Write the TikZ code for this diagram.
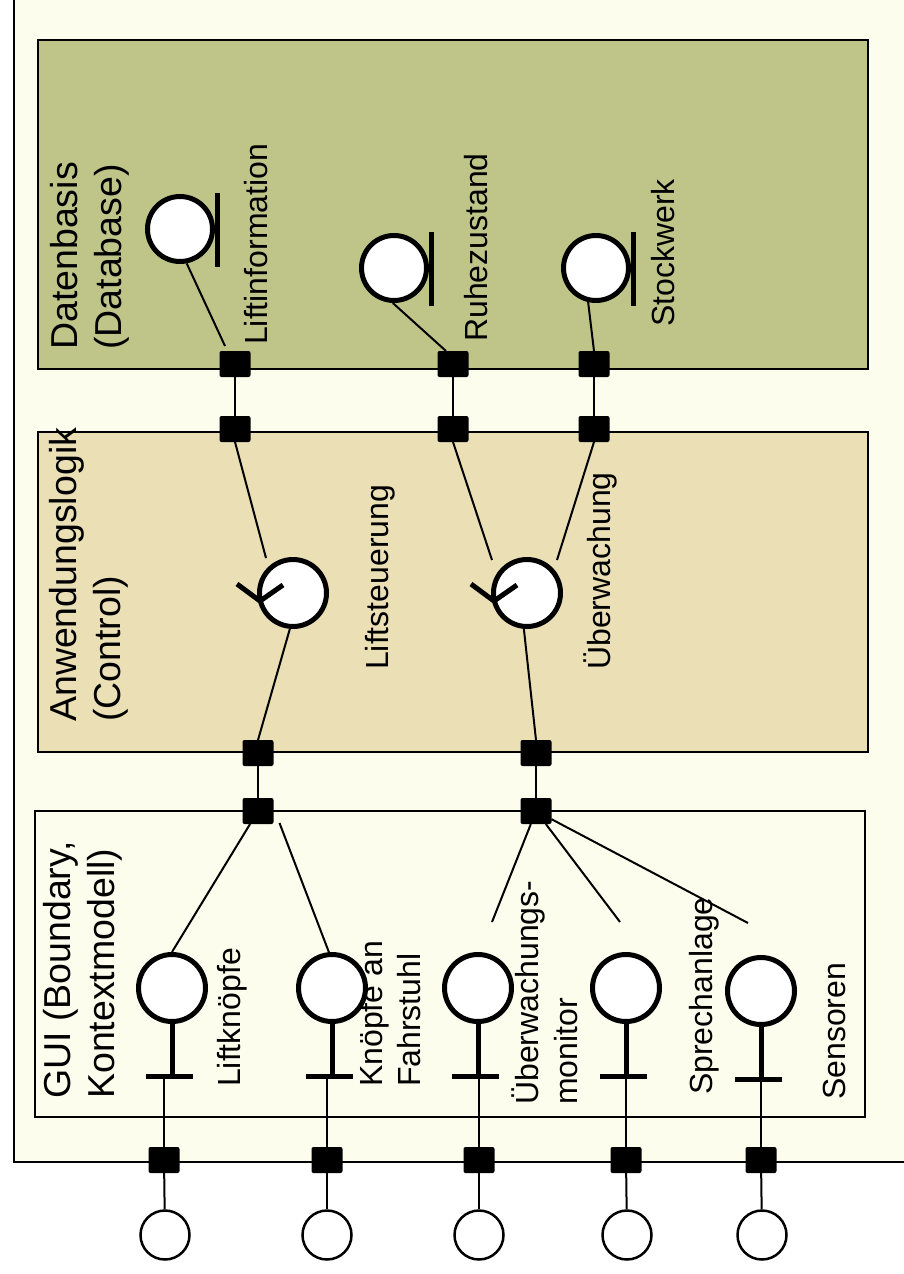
\documentclass[tikz,border=0pt]{standalone}
\usepackage{fontspec}
\setmainfont{Liberation Sans}
\usetikzlibrary{calc}
\definecolor{cream}{RGB}{253,253,237}
\definecolor{dbgreen}{RGB}{191,197,137}
\definecolor{ctrltan}{RGB}{234,223,181}
\begin{document}
\begin{tikzpicture}[x=1pt,y=-1pt,
  bandbox/.style={draw=black,line width=2.5pt},
  portbox/.style={rectangle,fill=black,rounded corners=2pt,minimum width=31pt,minimum height=26pt,inner sep=0pt,outer sep=0pt},
  conn/.style={line width=2pt},
  thickline/.style={line width=5pt},
  entcirc/.style={circle,draw=black,fill=white,line width=5pt,minimum size=65pt,inner sep=0pt},
  ctrlcirc/.style={circle,draw=black,fill=white,line width=5pt,minimum size=67pt,inner sep=0pt},
  actcirc/.style={circle,draw=black,fill=white,line width=5pt,minimum size=67pt,inner sep=0pt},
  extcirc/.style={circle,draw=black,fill=white,line width=2.5pt,minimum size=49pt,inner sep=0pt},
  lbl/.style={rotate=90,inner sep=0pt,font=\fontsize{32}{38.5}\selectfont},
  ttl/.style={rotate=90,inner sep=0pt,font=\fontsize{37.5}{44}\selectfont,align=left}]
\useasboundingbox (0,0) rectangle (904,1274);
\clip (0,0) rectangle (904,1274);
\fill[white] (0,0) rectangle (904,1274);
% outer frame
\fill[cream] (14,-10) rectangle (920,1162);
\draw[line width=2.5pt] (14,-10) -- (14,1162) -- (920,1162);
% bands
\draw[bandbox,fill=dbgreen] (38,40) rectangle (868,369);
\draw[bandbox,fill=ctrltan] (38,432) rectangle (868,752);
\draw[bandbox,fill=cream] (35,811) rectangle (865,1117);
% titles
\node[ttl,anchor=north west] (tDB) at (50,350) {Datenbasis\\(Database)};
\node[ttl,anchor=north west] (tCtrl) at (49,722) {Anwendungslogik\\(Control)};
\node[ttl,anchor=north west] (tGUI) at (43,1099) {GUI (Boundary,\\Kontextmodell)};
% ports
\node[portbox] (pDB1) at (235,364) {};
\node[portbox] (pDB2) at (453,364) {};
\node[portbox] (pDB3) at (594,364) {};
\node[portbox] (pC1) at (235,429) {};
\node[portbox] (pC2) at (453,429) {};
\node[portbox] (pC3) at (594,429) {};
\node[portbox] (pC4) at (258,753) {};
\node[portbox] (pC5) at (536,753) {};
\node[portbox] (pG1) at (258,811) {};
\node[portbox] (pG2) at (536,811) {};
\node[portbox] (pO1) at (164,1160) {};
\node[portbox] (pO2) at (327,1160) {};
\node[portbox] (pO3) at (479,1160) {};
\node[portbox] (pO4) at (626,1160) {};
\node[portbox] (pO5) at (761,1160) {};
% entities
\node[entcirc] (eLI) at (180,229) {};
\node[entcirc] (eRZ) at (394,268) {};
\node[entcirc] (eSW) at (596,268) {};
\foreach \e in {eLI,eRZ,eSW}{
  \draw[thickline] ($(\e)+(37,-36)$) -- ($(\e)+(37,38)$);
}
% controls
\node[ctrlcirc] (cLS) at (293,593) {};
\node[ctrlcirc] (cUW) at (527,593) {};
\foreach \c in {cLS,cUW}{
  \draw[thickline] ($(\c)+(-56,-9)$) -- ($(\c)+(-33,8)$) -- ($(\c)+(-10,-8)$);
}
% actors
\node[actcirc] (aLK) at (172,988) {};
\node[actcirc] (aKF) at (332,988) {};
\node[actcirc] (aUM) at (478,988) {};
\node[actcirc] (aSP) at (626,988) {};
\node[actcirc] (aSE) at (761,991) {};
\foreach \a/\b in {aLK/bLK,aKF/bKF,aUM/bUM,aSP/bSP,aSE/bSE}{
  \coordinate (\b) at ($(\a)+(0,88)$);
  \draw[thickline] (\a.south) -- (\b);
  \draw[thickline] ($(\b)+(-26,0)$) -- ($(\b)+(21,0)$);
}
% external circles
\node[extcirc] (x1) at (165,1235) {};
\node[extcirc] (x2) at (327,1235) {};
\node[extcirc] (x3) at (479,1235) {};
\node[extcirc] (x4) at (627,1235) {};
\node[extcirc] (x5) at (762,1235) {};
% free ends
\coordinate (fUM) at (492,922);
\coordinate (fSP) at (620,922);
\coordinate (fSE) at (748,923);
% connectors database
\draw[conn] (eLI.-79) -- ($(pDB1.north)+(-10,-5)$);
\draw[conn] (eRZ.-92) -- ($(pDB2.north)+(-7,0)$);
\draw[conn] (eSW.-103) -- (pDB3.north);
\draw[conn] (pDB1) -- (pC1);
\draw[conn] (pDB2) -- (pC2);
\draw[conn] (pDB3) -- (pC3);
% connectors control
\draw[conn] (pC1.south) -- ($(cLS)+(-27,-35)$);
\draw[conn] (cLS.-95) -- (pC4.north);
\draw[conn] (pC2.south) -- ($(cUW)+(-35,-33)$);
\draw[conn] (pC3.south) -- ($(cUW)+(30,-33)$);
\draw[conn] (cUW.-95) -- (pC5.north);
\draw[conn] (pC4) -- (pG1);
\draw[conn] (pC5) -- (pG2);
% connectors gui
\draw[conn] (pG1) -- (aLK.north);
\draw[conn] ($(pG1.south east)+(6,-1)$) -- ($(aKF.north)+(-2,3)$);
\draw[conn] (pG2) -- (fUM);
\draw[conn] (pG2) -- (fSP);
\draw[conn] (pG2) -- (fSE);
\foreach \p/\b/\x in {pO1/bLK/x1,pO2/bKF/x2,pO3/bUM/x3,pO4/bSP/x4,pO5/bSE/x5}{
  \draw[conn] (\p.north) -- (\p.north |- \b);
  \draw[conn] (\p) -- (\x);
}
% labels
\node[lbl,anchor=base west] (lLI) at (267,345) {Liftinformation};
\node[lbl,anchor=base west] (lRZ) at (487,342) {Ruhezustand};
\node[lbl,anchor=base west] (lSW) at (674,327) {Stockwerk};
\node[lbl,anchor=base west] (lLS) at (388,670) {Liftsteuerung};
\node[lbl,anchor=base west] (lUW) at (610,670) {Überwachung};
\node[lbl,anchor=base west] (lLK) at (240,1087) {Liftknöpfe};
\node[lbl,anchor=north west,align=left] (lKF) at (359,1087) {Knöpfe an\\Fahrstuhl};
\node[lbl,anchor=north west,align=left] (lUM) at (512,1105) {Überwachungs-\\monitor};
\node[lbl,anchor=base west] (lSP) at (712,1095) {Sprechanlage};
\node[lbl,anchor=base west] (lSE) at (845,1100) {Sensoren};
\end{tikzpicture}
\end{document}
